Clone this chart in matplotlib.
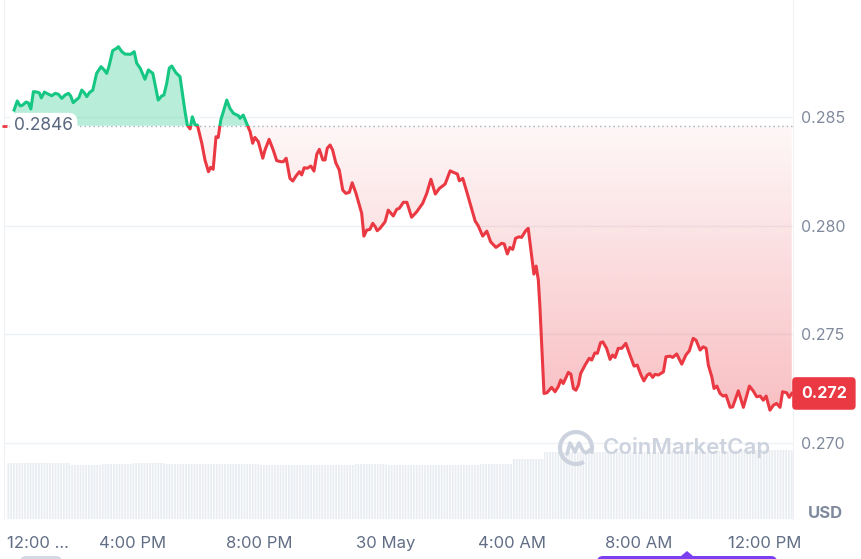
import numpy as np
import matplotlib.pyplot as plt
import matplotlib.transforms as mtransforms
from matplotlib.patches import Polygon, Rectangle, FancyBboxPatch, Arc
from matplotlib.lines import Line2D
from matplotlib.colors import to_rgb

plt.rcParams['font.family'] = ['Inter', 'DejaVu Sans']
plt.rcParams['hatch.linewidth'] = 0.7

# hours after 12:00 PM on 29 May
hours = [
    0.24, 0.34, 0.43, 0.51, 0.62, 0.69, 0.77, 0.85, 0.96, 1.04,
    1.10, 1.20, 1.30, 1.43, 1.54, 1.64, 1.75, 1.85, 1.96, 2.03,
    2.11, 2.20, 2.29, 2.38, 2.45, 2.54, 2.62, 2.73, 2.85, 2.99,
    3.09, 3.17, 3.24, 3.36, 3.49, 3.54, 3.65, 3.75, 3.93, 4.04,
    4.12, 4.23, 4.38, 4.49, 4.63, 4.80, 4.91, 4.98, 5.07, 5.15,
    5.23, 5.36, 5.49, 5.65, 5.72, 5.81, 5.88, 5.97, 6.04, 6.18,
    6.28, 6.39, 6.46, 6.54, 6.63, 6.70, 6.78, 6.86, 6.97, 7.07,
    7.18, 7.34, 7.39, 7.49, 7.62, 7.71, 7.79, 7.86, 7.97, 8.11,
    8.18, 8.31, 8.44, 8.55, 8.68, 8.76, 8.85, 8.97, 9.06, 9.16,
    9.27, 9.34, 9.42, 9.52, 9.63, 9.73, 9.82, 9.90, 10.01, 10.08,
    10.15, 10.24, 10.32, 10.42, 10.53, 10.64, 10.74, 10.85, 10.94, 11.06,
    11.24, 11.31, 11.40, 11.50, 11.59, 11.67, 11.73, 11.82, 11.98, 12.08,
    12.24, 12.35, 12.43, 12.56, 12.67, 12.82, 12.98, 13.17, 13.30, 13.43,
    13.57, 13.70, 13.88, 14.04, 14.14, 14.27, 14.33, 14.44, 14.58, 14.83,
    14.93, 15.07, 15.20, 15.32, 15.49, 15.67, 15.75, 15.85, 15.93, 16.02,
    16.11, 16.22, 16.30, 16.43, 16.51, 16.62, 16.69, 16.76, 16.83, 16.88,
    17.01, 17.10, 17.25, 17.36, 17.46, 17.54, 17.62, 17.78, 17.86, 17.94,
    18.02, 18.10, 18.17, 18.31, 18.44, 18.52, 18.62, 18.70, 18.80, 18.87,
    18.99, 19.10, 19.18, 19.26, 19.36, 19.47, 19.60, 19.71, 19.86, 19.96,
    20.08, 20.17, 20.28, 20.36, 20.45, 20.52, 20.63, 20.79, 20.87, 21.00,
    21.08, 21.21, 21.37, 21.50, 21.61, 21.73, 21.82, 21.95, 22.05, 22.14,
    22.21, 22.32, 22.39, 22.48, 22.58, 22.68, 22.77, 22.90, 22.98, 23.16,
    23.32, 23.51, 23.63, 23.74, 23.85, 23.95, 24.04, 24.16, 24.27, 24.37,
    24.48, 24.56, 24.69, 24.77, 24.85,
]

price = [
    0.28532, 0.28574, 0.28551, 0.28555, 0.28569, 0.28565, 0.28537, 0.28617, 0.28615, 0.28611,
    0.28588, 0.28615, 0.28607, 0.28598, 0.28609, 0.28605, 0.28586, 0.28601, 0.28609, 0.28597,
    0.28566, 0.28578, 0.28589, 0.28624, 0.28614, 0.28594, 0.28612, 0.28624, 0.28701, 0.28732,
    0.28717, 0.28701, 0.28732, 0.28806, 0.28817, 0.28824, 0.28801, 0.28790, 0.28789, 0.28801,
    0.28748, 0.28725, 0.28674, 0.28717, 0.28701, 0.28578, 0.28597, 0.28601, 0.28655, 0.28725,
    0.28735, 0.28704, 0.28686, 0.28524, 0.28463, 0.28445, 0.28501, 0.28463, 0.28463, 0.28379,
    0.28302, 0.28248, 0.28268, 0.28259, 0.28409, 0.28406, 0.28486, 0.28524, 0.28578, 0.28540,
    0.28517, 0.28506, 0.28494, 0.28509, 0.28463, 0.28432, 0.28379, 0.28406, 0.28386, 0.28310,
    0.28348, 0.28397, 0.28348, 0.28299, 0.28294, 0.28294, 0.28310, 0.28217, 0.28205, 0.28228,
    0.28248, 0.28233, 0.28266, 0.28264, 0.28274, 0.28251, 0.28329, 0.28351, 0.28302, 0.28302,
    0.28356, 0.28371, 0.28348, 0.28289, 0.28256, 0.28163, 0.28148, 0.28153, 0.28197, 0.28148,
    0.28056, 0.27951, 0.27979, 0.27982, 0.28010, 0.27994, 0.27976, 0.27987, 0.28017, 0.28071,
    0.28044, 0.28075, 0.28079, 0.28107, 0.28107, 0.28038, 0.28063, 0.28102, 0.28148, 0.28213,
    0.28145, 0.28171, 0.28191, 0.28252, 0.28245, 0.28237, 0.28206, 0.28217, 0.28148, 0.28021,
    0.27998, 0.27951, 0.27974, 0.27925, 0.27899, 0.27918, 0.27915, 0.27869, 0.27899, 0.27890,
    0.27941, 0.27948, 0.27945, 0.27976, 0.27987, 0.27856, 0.27776, 0.27813, 0.27749, 0.27626,
    0.27226, 0.27229, 0.27254, 0.27234, 0.27257, 0.27288, 0.27272, 0.27323, 0.27315, 0.27249,
    0.27241, 0.27265, 0.27318, 0.27357, 0.27388, 0.27380, 0.27413, 0.27411, 0.27460, 0.27464,
    0.27434, 0.27383, 0.27403, 0.27392, 0.27434, 0.27434, 0.27457, 0.27411, 0.27352, 0.27357,
    0.27311, 0.27284, 0.27311, 0.27318, 0.27300, 0.27314, 0.27311, 0.27326, 0.27395, 0.27398,
    0.27392, 0.27408, 0.27361, 0.27403, 0.27423, 0.27480, 0.27472, 0.27426, 0.27441, 0.27434,
    0.27357, 0.27303, 0.27249, 0.27260, 0.27226, 0.27214, 0.27218, 0.27162, 0.27164, 0.27238,
    0.27162, 0.27260, 0.27238, 0.27211, 0.27214, 0.27195, 0.27214, 0.27149, 0.27172, 0.27180,
    0.27162, 0.27234, 0.27229, 0.27208, 0.27226,
]

base_price = 0.2846
base_label = '0.2846'
last_label = '0.272'

# hourly volume (relative units)
vol_hours = list(range(25))
volume = [63, 63, 61, 62, 63, 62, 62, 62, 61, 61, 61, 62, 61,
          61, 61, 62, 67, 75, 75, 75, 75, 76, 76, 78, 78]

y_ticks = [0.270, 0.275, 0.280, 0.285]
x_ticks = [0, 4, 8, 12, 16, 20, 24]
x_labels = ['12:00 ...', '4:00 PM', '8:00 PM', '30 May', '4:00 AM', '8:00 AM', '12:00 PM']

GREEN = '#16c784'
RED = '#ea3943'
W, H = 861, 559

t = np.array(hours)
p = np.array(price)

fig = plt.figure(figsize=(W / 100, H / 100), dpi=100)
ax = fig.add_axes([4 / W, 40 / H, 789 / W, 519 / H])
ax_vol = ax.twinx()

xlim = (-0.08, 24.89)
ax.set_xlim(*xlim)
ax.set_ylim(0.266475, 0.290392)

# volume bars in the background
ax_vol.bar(vol_hours, volume, width=1.0, align='edge', color='#e9edf2',
           edgecolor='white', hatch='||||||', linewidth=0)
ax_vol.set_ylim(0, 100 * 519 / 89)
ax_vol.set_yticks([])
for s in ax_vol.spines.values():
    s.set_visible(False)
ax.set_zorder(ax_vol.get_zorder() + 1)
ax.patch.set_visible(False)

# grid + spines
ax.set_yticks(y_ticks)
ax.set_yticklabels([f'{v:.3f}' for v in y_ticks])
ax.yaxis.tick_right()
ax.grid(axis='y', color='#eff2f5', lw=1)
ax.set_axisbelow(True)
for side in ['top', 'bottom']:
    ax.spines[side].set_visible(False)
for side in ['left', 'right']:
    ax.spines[side].set_color('#eff2f5')
ax.tick_params(axis='y', length=0, pad=5.8, labelsize=11.5, labelcolor='#808a9d')
ax.set_xticks(x_ticks)
ax.set_xticklabels(x_labels)
ax.tick_params(axis='x', length=0, pad=12.5, labelsize=12, labelcolor='#616e85')
ax.get_xticklabels()[0].set_ha('left')

# green area above the open price
up = np.maximum(p, base_price)
verts = [(t[0], base_price)] + list(zip(t, up)) + [(t[-1], base_price)]
ax.add_patch(Polygon(verts, closed=True, fc=GREEN, alpha=0.3, ec='none', zorder=1))

# red gradient area below the open price
down = np.minimum(p, base_price)
verts = [(t[0], base_price)] + list(zip(t, down)) + [(t[-1], base_price)]
clip = Polygon(verts, closed=True, fc='none', ec='none')
ax.add_patch(clip)
grad = np.zeros((256, 1, 4))
grad[:, 0, :3] = to_rgb(RED)
grad[:, 0, 3] = np.linspace(0.32, 0.04, 256)
im = ax.imshow(grad, extent=[t[0], t[-1], p.min(), base_price], origin='lower',
               aspect='auto', zorder=1, interpolation='bilinear')
im.set_clip_path(clip)

# dotted open-price line
ax.axhline(base_price, color='#a6b0c3', lw=1.0, ls=(0, (1, 2.2)), zorder=2)
ax.hlines(base_price, xlim[0] - 0.05, xlim[0] + 0.1, color=RED, lw=2, zorder=3, clip_on=False)

# price line, green above / red below the open price
big = 1.0
l_up, = ax.plot(t, p, color=GREEN, lw=2.2, zorder=4, solid_joinstyle='round')
l_up.set_clip_path(Rectangle((xlim[0], base_price), 30, big, transform=ax.transData))
l_dn, = ax.plot(t, p, color=RED, lw=2.2, zorder=4, solid_joinstyle='round')
l_dn.set_clip_path(Rectangle((xlim[0], base_price - big), 30, big, transform=ax.transData))

xaxis_y = mtransforms.blended_transform_factory(ax.transAxes, ax.transData)
ax.text(0.0127, base_price, base_label, transform=xaxis_y, ha='left', va='center',
        fontsize=12.5, color='#58667e', zorder=5,
        bbox=dict(boxstyle='round,pad=0.25,rounding_size=0.5', fc='white', ec='none'))
ax.text(1.0101, p[-1], last_label, transform=xaxis_y, ha='left', va='center',
        fontsize=11.5, color='white', fontweight='bold', zorder=6, clip_on=False,
        bbox=dict(boxstyle='round,pad=0.55,rounding_size=0.25', fc=RED, ec='none'))

fig.text(825 / W, 1 - 514 / H, 'USD', ha='center', va='center', fontsize=12,
         fontweight='bold', color='#808a9d')

# watermark
wm = '#cdd3de'
fig.text(687 / W, 1 - 448 / H, 'CoinMarketCap', ha='center', va='center',
         fontsize=16, fontweight='semibold', color=wm, zorder=5)
cx, cy = 576, H - 448
fig.patches.append(Arc((cx / W, cy / H), 32 / W, 32 / H, theta1=-30, theta2=290,
                       lw=3, color=wm, transform=fig.transFigure, figure=fig))
zig = [(-9, -6), (-6, 5), (-1, -4), (3, 5), (7, -3), (10, -5), (15, -1)]
fig.lines.append(Line2D([(cx + dx) / W for dx, dy in zig], [(cy + dy) / H for dx, dy in zig],
                        lw=2.6, color=wm, transform=fig.transFigure, figure=fig,
                        solid_joinstyle='round', solid_capstyle='round'))

# cut-off controls at the bottom edge
pix = mtransforms.IdentityTransform()
fig.patches.append(FancyBboxPatch((20, -10), 42, 13, boxstyle='round,pad=0,rounding_size=6',
                                  fc='#d3d9e3', ec='none', transform=pix, figure=fig))
fig.patches.append(FancyBboxPatch((597, -10), 180, 13, boxstyle='round,pad=0,rounding_size=6',
                                  fc='#7b3ff2', ec='none', transform=pix, figure=fig))
fig.patches.append(Polygon([(681, 3), (687, 8), (693, 3)], closed=True, fc='#7b3ff2',
                           ec='none', transform=pix, figure=fig))

fig.savefig('out.png', dpi=100, facecolor='white')
